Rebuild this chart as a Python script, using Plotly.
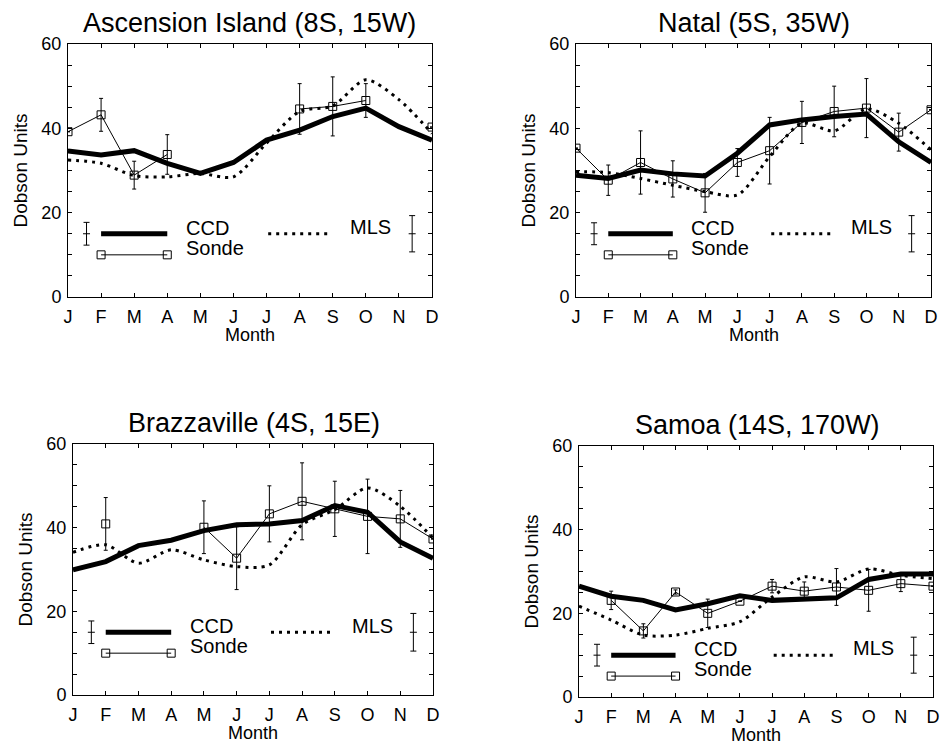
import plotly.graph_objects as go

# ── Data ──────────────────────────────────────────────────────────────────────
months = ["J", "F", "M", "A", "M", "J", "J", "A", "S", "O", "N", "D"]
month_idx = list(range(12))

titles = ["Ascension Island (8S, 15W)", "Natal (5S, 35W)",
          "Brazzaville (4S, 15E)", "Samoa (14S, 170W)"]

# Ascension Island
ccd_asc   = [34.6, 33.7, 34.7, 31.7, 29.3, 31.9, 37.2, 39.6, 42.8, 44.8, 40.4, 37.2]
mls_asc   = [32.5, 31.7, 28.8, 28.5, 29.3, 28.5, 36.5, 44.0, 45.3, 51.5, 46.8, 38.8]
sonde_asc = [39.2, 43.2, 28.9, 33.8, None, None, None, 44.6, 45.2, 46.6, None, 40.3]
err_asc   = [None, 3.9, 3.3, 4.7, None, None, None, 6.0, 7.0, 4.0, None, None]

# Natal
ccd_nat   = [28.9, 28.1, 30.1, 29.2, 28.7, 34.1, 40.8, 42.0, 42.8, 43.4, 36.8, 31.9]
mls_nat   = [29.7, 29.5, 28.1, 26.5, 25.0, 24.2, 33.3, 41.2, 39.4, 44.6, 41.2, 34.9]
sonde_nat = [35.3, 27.7, 31.9, 28.0, 24.7, 31.9, 34.7, 41.4, 44.0, 44.8, 39.1, 44.4]
err_nat   = [None, 3.6, 7.5, 4.3, 4.6, 3.3, 7.9, 5.0, 6.0, 7.0, 4.5, None]

# Brazzaville
ccd_bra   = [29.9, 31.9, 35.7, 37.0, 39.3, 40.7, 40.9, 41.7, 45.3, 43.7, 36.6, 32.7]
mls_bra   = [34.1, 35.9, 31.5, 34.7, 32.3, 30.7, 31.1, 40.7, 44.3, 49.5, 45.1, 37.5]
sonde_bra = [None, 40.9, None, None, 40.1, 32.7, 43.3, 46.3, 44.5, 42.7, 42.1, 37.3]
err_bra   = [None, 6.3, None, None, 6.3, 7.5, 6.7, 9.2, 6.6, 8.9, 6.8, None]

# Samoa
ccd_sam   = [26.5, 24.1, 23.1, 20.8, 22.3, 24.2, 23.1, 23.3, 23.7, 28.1, 29.4, 29.4]
mls_sam   = [21.7, 18.4, 14.8, 14.8, 16.4, 18.0, 23.9, 28.7, 27.5, 30.6, 29.1, 28.3]
sonde_sam = [None, 23.1, 15.8, 25.1, 20.0, 22.9, 26.5, 25.3, 26.3, 25.5, 27.1, 26.5]
err_sam   = [None, 2.2, 1.7, 0.5, 3.4, None, 1.6, 2.2, 4.4, 5.0, 1.9, None]

ccd   = [ccd_asc, ccd_nat, ccd_bra, ccd_sam]
mls   = [mls_asc, mls_nat, mls_bra, mls_sam]
sonde = [sonde_asc, sonde_nat, sonde_bra, sonde_sam]
errs  = [err_asc, err_nat, err_bra, err_sam]

# in-plot legend: baseline level and the two sample error bars (CCD, MLS)
key_level   = [15, 15, 15, 10]
key_err_ccd = [2.7, 2.6, 2.7, 2.6]
key_err_mls = [4.3, 4.3, 4.5, 4.3]

# ── Layout geometry (pixels of a 941x745 page) ────────────────────────────────
W, H = 941, 745
boxes = [  # left, right, top, bottom
    (68, 432, 44, 297),
    (576, 931, 44, 297),
    (73, 433, 444, 695),
    (579, 933, 446, 697),
]
title_x = [250, 754, 254, 757]
FONT = "Liberation Sans, Arial, Helvetica, sans-serif"
BLACK = "black"
DOTS = "3px,5px"

fig = go.Figure()

for i in range(4):
    xa = "x" if i == 0 else f"x{i + 1}"
    ya = "y" if i == 0 else f"y{i + 1}"
    common = dict(xaxis=xa, yaxis=ya, showlegend=False, hoverinfo="skip")

    # MLS, dotted
    fig.add_trace(go.Scatter(
        x=month_idx, y=mls[i], mode="lines",
        line=dict(color=BLACK, width=3, dash=DOTS, shape="spline", smoothing=0.8),
        **common))
    # CCD, thick
    fig.add_trace(go.Scatter(
        x=month_idx, y=ccd[i], mode="lines",
        line=dict(color=BLACK, width=5), **common))
    # Sonde, thin with open squares and error bars
    fig.add_trace(go.Scatter(
        x=month_idx, y=sonde[i], mode="lines+markers",
        line=dict(color=BLACK, width=1), connectgaps=False,
        marker=dict(symbol="square-open", size=8, color=BLACK, line=dict(width=1)),
        error_y=dict(type="data", array=[e if e is not None else 0 for e in errs[i]],
                     visible=True, color=BLACK, thickness=1, width=2),
        **common))

    lv = key_level[i]
    # key: sample error bars
    fig.add_trace(go.Scatter(
        x=[0.56, 10.4], y=[lv, lv], mode="markers",
        marker=dict(symbol="line-ew", size=5, color=BLACK, line=dict(width=1, color=BLACK)),
        error_y=dict(type="data", array=[key_err_ccd[i], key_err_mls[i]],
                     visible=True, color=BLACK, thickness=1, width=3),
        **common))
    # key: lines
    fig.add_trace(go.Scatter(x=[1, 3], y=[lv, lv], mode="lines",
                             line=dict(color=BLACK, width=5), **common))
    fig.add_trace(go.Scatter(x=[1, 3], y=[lv - 5, lv - 5], mode="lines+markers",
                             line=dict(color=BLACK, width=1),
                             marker=dict(symbol="square-open", size=8, color=BLACK,
                                         line=dict(width=1)), **common))
    fig.add_trace(go.Scatter(x=[6.05, 7.97], y=[lv, lv], mode="lines",
                             line=dict(color=BLACK, width=3, dash=DOTS), **common))
    for txt, tx, ty in [("CCD", 3.5, lv + 1.4), ("Sonde", 3.5, lv - 3.4), ("MLS", 8.45, lv + 1.6)]:
        fig.add_annotation(text=txt, x=tx, y=ty, xref=xa, yref=ya, xanchor="left",
                           yanchor="middle", showarrow=False,
                           font=dict(family=FONT, size=20, color=BLACK))

    l, r, t, b = boxes[i]
    ax_common = dict(showline=True, linecolor=BLACK, linewidth=1, mirror="ticks",
                     ticks="inside", ticklen=4, tickcolor=BLACK, showgrid=False,
                     zeroline=False, automargin=False,
                     tickfont=dict(family=FONT, size=18, color=BLACK))
    fig.layout[f"xaxis{'' if i == 0 else i + 1}"] = dict(
        domain=[l / W, r / W], anchor=ya, range=[0, 11], ticklabeloverflow="allow",
        tickvals=month_idx, ticktext=months, ticklabelstandoff=3, **ax_common)
    fig.layout[f"yaxis{'' if i == 0 else i + 1}"] = dict(
        domain=[1 - b / H, 1 - t / H], anchor=xa, range=[0, 60],
        tickvals=[0, 20, 40, 60], ticklabelstandoff=2,
        minor=dict(dtick=5, ticks="inside", ticklen=4, tickcolor=BLACK),
        **ax_common)

    # titles and axis labels
    fig.add_annotation(text=titles[i], x=title_x[i] / W, y=1 - (t - 21) / H,
                       xref="paper", yref="paper", xanchor="center", yanchor="middle",
                       showarrow=False, font=dict(family=FONT, size=27, color=BLACK))
    fig.add_annotation(text="Month", x=(l + r) / 2 / W, y=1 - (b + 38) / H,
                       xref="paper", yref="paper", xanchor="center", yanchor="middle",
                       showarrow=False, font=dict(family=FONT, size=18, color=BLACK))
    fig.add_annotation(text="Dobson Units", x=(l - 48) / W, y=1 - (t + b) / 2 / H,
                       xref="paper", yref="paper", xanchor="center", yanchor="middle",
                       textangle=-90, showarrow=False,
                       font=dict(family=FONT, size=19, color=BLACK))

fig.update_layout(
    width=W, height=H,
    margin=dict(l=0, r=0, t=0, b=0),
    paper_bgcolor="white", plot_bgcolor="white",
    font=dict(family=FONT, color=BLACK),
)

fig.write_html("out.html", config={"displayModeBar": False},
               post_script="document.body.style.margin='0';")
